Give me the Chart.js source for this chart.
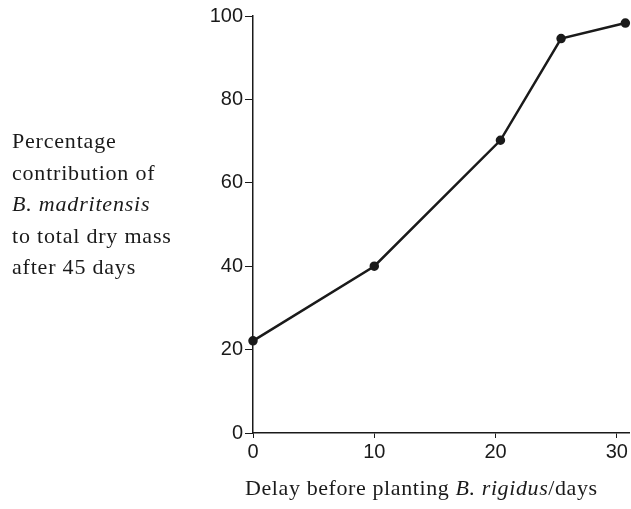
<!DOCTYPE html>
<html>
<head>
<meta charset="utf-8">
<script src="https://cdn.jsdelivr.net/npm/chart.js@4/dist/chart.umd.min.js"></script>
<style>
  html, body { margin: 0; padding: 0; background: #fff; }
  #wrap { width: 631px; height: 509px; }
</style>
</head>
<body>
<div id="wrap"><canvas id="chart" width="631" height="509"></canvas></div>
<script>
// values
const delayDays = [0, 10, 20.4, 25.4, 30.7];
const percentMadritensis = [22.1, 40, 70.2, 94.6, 98.3];
const xTicks = [0, 10, 20, 30];
const yTicks = [0, 20, 40, 60, 80, 100];
const yTitleLines = [
    [{ t: 'Percentage' }],
    [{ t: 'contribution of' }],
    [{ t: 'B. madritensis', italic: true }],
    [{ t: 'to total dry mass' }],
    [{ t: 'after 45 days' }]
];
const xTitleParts = [
    { t: 'Delay before planting ' },
    { t: 'B. rigidus', italic: true },
    { t: '/days' }
];

const ink = '#1a1a1a';
const serif = '"Liberation Serif", "Times New Roman", serif';
const sans = '"Liberation Sans", Arial, sans-serif';

function drawParts(ctx, parts, x, y, size) {
    parts.forEach(p => {
        ctx.font = (p.italic ? 'italic ' : '') + size + 'px ' + serif;
        ctx.fillText(p.t, x, y);
        x += ctx.measureText(p.t).width;
    });
}

// axis titles drawn as free text, like the printed figure
const titlesPlugin = {
    id: 'titles',
    afterDraw(chart) {
        const ctx = chart.ctx;
        ctx.save();
        ctx.fillStyle = ink;
        ctx.textBaseline = 'alphabetic';
        ctx.textAlign = 'left';
        ctx.letterSpacing = '0.8px';
        yTitleLines.forEach((line, i) => {
            drawParts(ctx, line, 12, 148 + i * 31.5, 22);
        });
        ctx.letterSpacing = '0.6px';
        drawParts(ctx, xTitleParts, 245, 495, 22);
        ctx.restore();
    }
};

// the axis runs on a little past 30, unlabelled
const xEnd = 31;

new Chart(document.getElementById('chart'), {
    type: 'scatter',
    data: {
        datasets: [{
            data: delayDays.map((d, i) => ({ x: d, y: percentMadritensis[i] })),
            showLine: true,
            borderColor: ink,
            borderWidth: 2.5,
            pointRadius: 3.5,
            pointBackgroundColor: ink,
            pointBorderColor: ink,
            tension: 0,
            clip: false
        }]
    },
    options: {
        responsive: false,
        animation: false,
        layout: { autoPadding: false, padding: { top: 16, right: 1, bottom: 0, left: 0 } },
        plugins: { legend: { display: false }, tooltip: { enabled: false } },
        scales: {
            x: {
                type: 'linear',
                min: 0,
                max: xEnd,
                afterBuildTicks: s => { s.ticks = xTicks.concat([xEnd]).map(v => ({ value: v })); },
                afterFit: s => { s.height = 76; },
                grid: {
                    drawOnChartArea: false, drawTicks: true, tickLength: 5,
                    color: c => (xTicks.includes(c.tick && c.tick.value) ? ink : 'rgba(0,0,0,0)')
                },
                border: { display: true, color: ink, width: 1.5 },
                ticks: {
                    color: ink, padding: 2, font: { family: sans, size: 20 },
                    callback: v => (xTicks.includes(v) ? String(v) : '')
                }
            },
            y: {
                min: 0,
                max: 100,
                afterBuildTicks: s => { s.ticks = yTicks.map(v => ({ value: v })); },
                afterFit: s => { s.width = 253; },
                grid: { drawOnChartArea: false, drawTicks: true, tickLength: 8, color: ink },
                border: { display: true, color: ink, width: 1.5 },
                ticks: { color: ink, padding: 2, font: { family: sans, size: 20 } }
            }
        }
    },
    plugins: [titlesPlugin]
});
</script>
</body>
</html>
